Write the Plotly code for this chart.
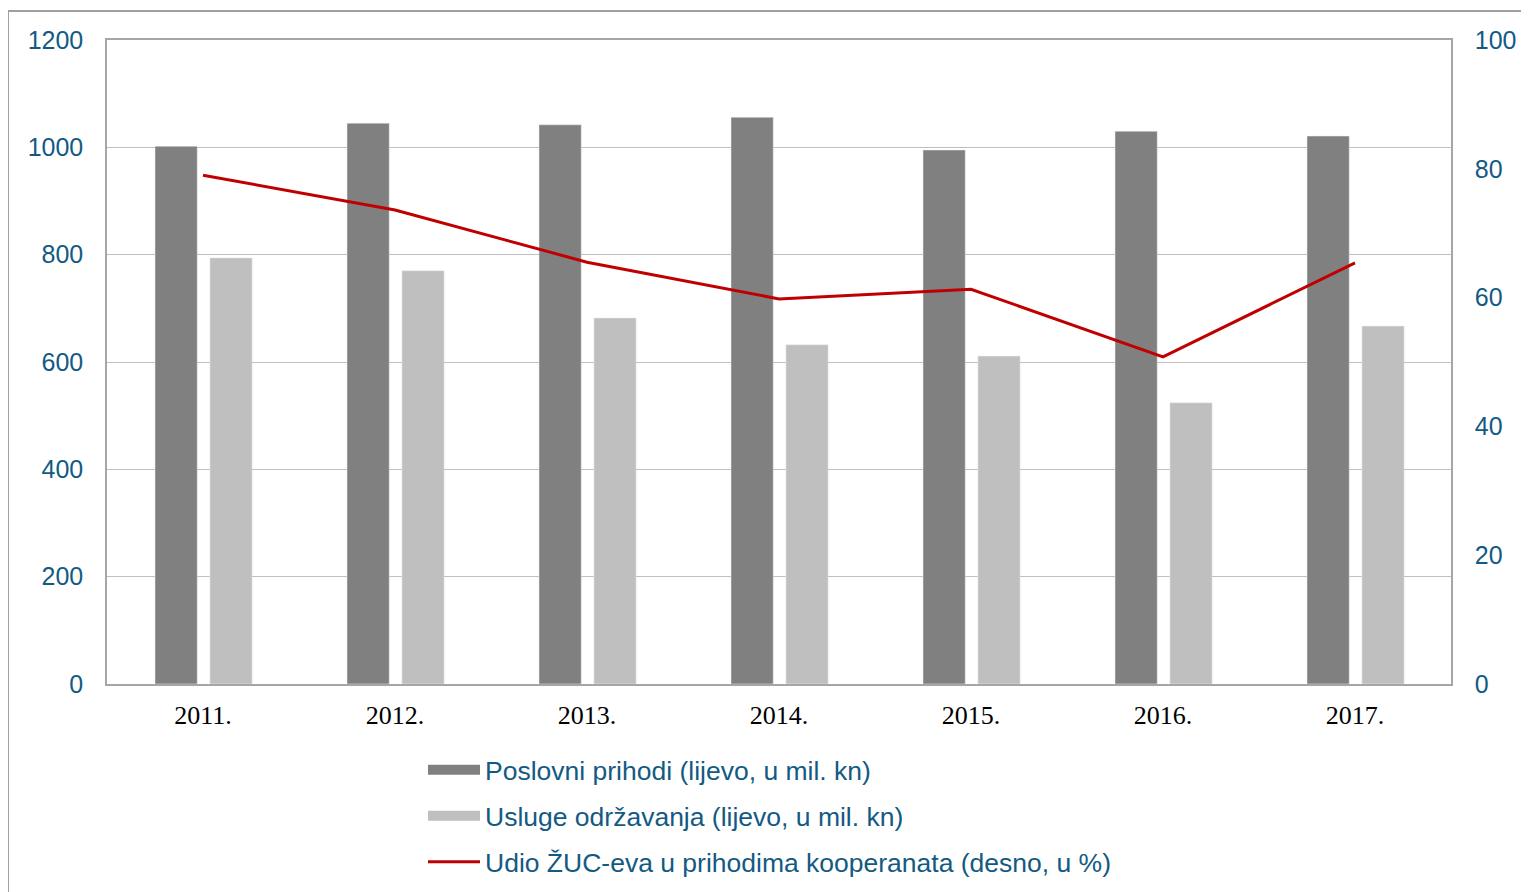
import plotly.graph_objects as go

years = ["2011.", "2012.", "2013.", "2014.", "2015.", "2016.", "2017."]
poslovni_prihodi = [1002, 1045, 1042, 1056, 995, 1030, 1021]
usluge_odrzavanja = [794, 770, 682, 632, 611, 524, 667]
udio_zuc = [79.0, 73.6, 65.5, 59.8, 61.3, 50.8, 65.4]

names = [
    "Poslovni prihodi (lijevo, u mil. kn)",
    "Usluge održavanja (lijevo, u mil. kn)",
    "Udio ŽUC-eva u prihodima kooperanata (desno, u %)",
]
dark, light, red = "#808080", "#BFBFBF", "#C00000"
blue = "#135A83"

# page body has an 8px margin; plot area target: x 107..1451, y 40..684
OFF = 8
W, H = 1529 - OFF, 892 - OFF
L, R, T, B = 107 - OFF, 78, 40 - OFF, 208
pw, ph = W - L - R, H - T - B

def px_x(x):
    return (x - 107) / pw

def px_y(y):
    return (684 - y) / ph

fig = go.Figure()
fig.add_trace(go.Bar(x=years, y=poslovni_prihodi, name=names[0], marker_color=dark,
                     width=0.22, offset=-0.25, showlegend=False))
fig.add_trace(go.Bar(x=years, y=usluge_odrzavanja, name=names[1], marker_color=light,
                     width=0.22, offset=0.036, showlegend=False))
fig.add_trace(go.Scatter(x=years, y=udio_zuc, name=names[2], mode="lines",
                         line=dict(color=red, width=3), yaxis="y2", showlegend=False))
# legend entries (wide swatches like the original)
for nm, col, w, g in [(names[0], dark, 14, "a"), (names[1], light, 14, "b"), (names[2], red, 3, "c")]:
    fig.add_trace(go.Scatter(x=[None], y=[None], name=nm, mode="lines",
                             line=dict(color=col, width=w), legendgroup=g))

fig.update_layout(
    width=W, height=H,
    margin=dict(l=L, r=R, t=T, b=B, pad=0, autoexpand=False),
    paper_bgcolor="white", plot_bgcolor="white",
    font=dict(family="Liberation Sans, Arial", size=25, color=blue),
    barmode="group",
    showlegend=True,
    legend=dict(xref="container", yref="container",
                x=(423 - OFF) / W, y=1 - (746 - OFF) / H, xanchor="left", yanchor="top",
                font=dict(size=26.5, color=blue), itemwidth=52, tracegroupgap=8.5,
                bgcolor="rgba(0,0,0,0)", itemclick=False),
    xaxis=dict(
        type="category", showline=True, linecolor="#A6A6A6", linewidth=1.5, mirror=True,
        showgrid=False, ticks="", ticklabelstandoff=7,
        tickfont=dict(family="Liberation Serif, DejaVu Serif", size=26, color="black"),
    ),
    yaxis=dict(
        range=[0, 1200], tick0=0, dtick=200, showgrid=True, gridcolor="#BFBFBF", gridwidth=1,
        showline=True, linecolor="#A6A6A6", linewidth=1.5, ticks="", ticklabelstandoff=17,
        zeroline=False, tickfont=dict(size=25, color=blue),
    ),
    yaxis2=dict(
        range=[0, 100], tick0=0, dtick=20, overlaying="y", side="right", showgrid=False,
        showline=True, linecolor="#A6A6A6", linewidth=1.5, ticks="", ticklabelstandoff=17,
        zeroline=False, tickfont=dict(size=25, color=blue),
    ),
    shapes=[
        dict(type="line", xref="paper", yref="paper", x0=px_x(8), x1=px_x(8),
             y0=px_y(11), y1=px_y(900), line=dict(color="#A0A0A0", width=2)),
        dict(type="line", xref="paper", yref="paper", x0=px_x(8), x1=px_x(1540),
             y0=px_y(11), y1=px_y(11), line=dict(color="#A0A0A0", width=2)),
    ],
)

fig.write_html("out.html")
